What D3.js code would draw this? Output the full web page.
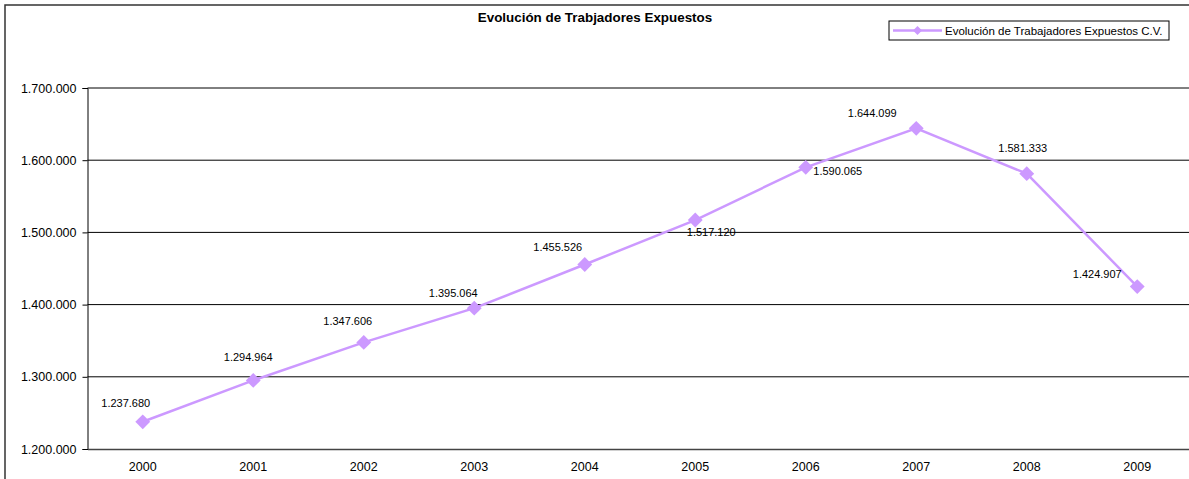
<!DOCTYPE html>
<html>
<head>
<meta charset="utf-8">
<script src="https://cdn.jsdelivr.net/npm/d3@7"></script>
<style>
  body { margin: 0; background: #fff; }
  svg { display: block; font-family: "Liberation Sans", Arial, sans-serif; }
</style>
</head>
<body>
<div id="chart"></div>
<script>
(function() {

var years = ["2000", "2001", "2002", "2003", "2004", "2005", "2006", "2007", "2008", "2009"];
var workers = [1237680, 1294964, 1347606, 1395064, 1455526, 1517120, 1590065, 1644099, 1581333, 1424907];
var yTicks = [1200000, 1300000, 1400000, 1500000, 1600000, 1700000];
var seriesName = "Evolución de Trabajadores Expuestos C.V.";
var chartTitle = "Evolución de Trabjadores Expuestos";

// label placement, by hand like the original
var labelShift = [[-17, -19], [-5, -23], [-16, -21], [-21, -15], [-27, -17],
                  [16, 12], [32, 4], [-44, -15], [-4, -26], [-40, -12]];

var W = 1189, H = 479;
var margin = {top: 88, left: 87.5, bottom: 30};
var plotW = 1105, plotH = 449 - margin.top;
var purple = "#cc99ff";

var es = d3.formatLocale({decimal: ",", thousands: ".", grouping: [3], currency: ["", ""]});
var fmt = es.format(",d");

var svg = d3.select("#chart").append("svg")
    .attr("width", W)
    .attr("height", H);

// outer chart frame (runs off right and bottom)
svg.append("rect")
  .attr("x", 5).attr("y", 5)
  .attr("width", W + 20).attr("height", H + 20)
  .style("fill", "none")
  .style("stroke", "#333")
  .style("stroke-width", 1.5);

svg.append("text")
  .attr("x", 595)
  .attr("y", 22)
  .attr("text-anchor", "middle")
  .style("font-size", "13.4px")
  .style("font-weight", "bold")
  .text(chartTitle);

var g = svg.append("g")
  .attr("transform", "translate(" + margin.left + "," + margin.top + ")");

var x = d3.scaleBand().domain(years).range([0, plotW]);
var y = d3.scaleLinear().domain([1200000, 1700000]).range([plotH, 0]);

// gridlines
g.selectAll(".grid")
    .data(yTicks.slice(1))
  .enter().append("line")
    .attr("x1", 0).attr("x2", plotW)
    .attr("y1", function(d) { return y(d); })
    .attr("y2", function(d) { return y(d); })
    .style("stroke", "#000")
    .style("stroke-width", 1);

var yAxis = g.append("g")
  .call(d3.axisLeft(y).tickValues(yTicks).tickFormat(fmt).tickSize(5).tickPadding(6));
yAxis.select(".domain").attr("stroke", "#000");
yAxis.selectAll(".tick line").attr("stroke", "#000");
yAxis.selectAll(".tick text").style("font-size", "12.5px").attr("fill", "#000")
  .attr("font-family", null);

var xAxis = g.append("g")
  .attr("transform", "translate(0," + plotH + ")")
  .call(d3.axisBottom(x).tickSize(0).tickPadding(13));
xAxis.select(".domain").attr("stroke", "#444").attr("stroke-width", 1.5);
xAxis.selectAll(".tick text").style("font-size", "12.5px").attr("fill", "#000")
  .attr("font-family", null);

var line = d3.line()
  .x(function(d, i) { return x(years[i]) + x.bandwidth() / 2; })
  .y(function(d) { return y(d); });

g.append("path")
  .datum(workers)
  .attr("d", line)
  .style("fill", "none")
  .style("stroke", purple)
  .style("stroke-width", 2.5);

var diamond = d3.symbol().type(d3.symbolSquare).size(110);

g.selectAll(".mark")
    .data(workers)
  .enter().append("path")
    .attr("class", "mark")
    .attr("d", diamond)
    .attr("transform", function(d, i) {
      return "translate(" + (x(years[i]) + x.bandwidth() / 2) + "," + y(d) + ") rotate(45)";
    })
    .style("fill", purple);

g.selectAll(".lbl")
    .data(workers)
  .enter().append("text")
    .attr("class", "lbl")
    .attr("x", function(d, i) { return x(years[i]) + x.bandwidth() / 2 + labelShift[i][0]; })
    .attr("y", function(d, i) { return y(d) + labelShift[i][1]; })
    .attr("dy", "0.35em")
    .attr("text-anchor", "middle")
    .style("font-size", "11px")
    .text(function(d) { return fmt(d); });

// legend
var leg = svg.append("g").attr("transform", "translate(889,21)");
leg.append("rect")
  .attr("width", 280).attr("height", 19)
  .style("fill", "#fff")
  .style("stroke", "#000")
  .style("stroke-width", 1);
leg.append("line")
  .attr("x1", 4).attr("x2", 53).attr("y1", 9.5).attr("y2", 9.5)
  .style("stroke", purple).style("stroke-width", 2.5);
leg.append("path")
  .attr("d", d3.symbol().type(d3.symbolSquare).size(40))
  .attr("transform", "translate(28.5,9.5) rotate(45)")
  .style("fill", purple);
leg.append("text")
  .attr("x", 56).attr("y", 9.5).attr("dy", "0.35em")
  .style("font-size", "11.5px")
  .text(seriesName);

})();
</script>
</body>
</html>
